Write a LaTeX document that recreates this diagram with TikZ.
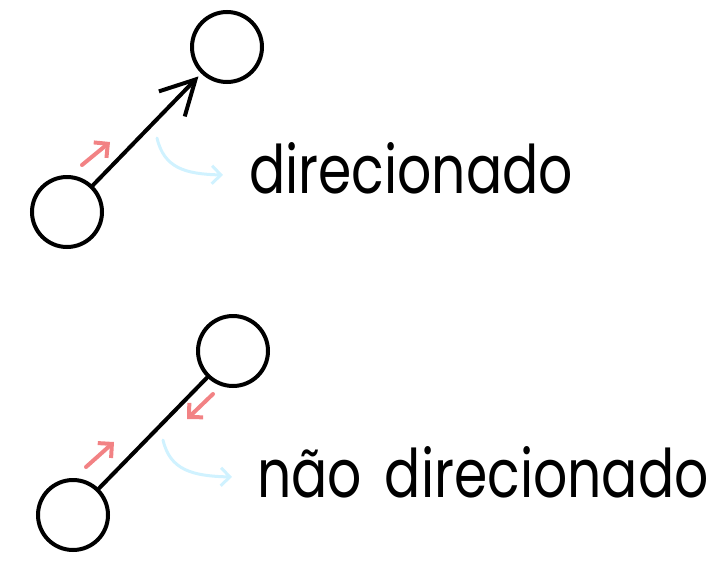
\documentclass[tikz,border=0pt]{standalone}
\usepackage{fontspec}
\setmainfont{Poppins}[FakeStretch=0.80,WordSpace=1.6]
\usetikzlibrary{arrows.meta}
\definecolor{hintred}{RGB}{242,130,132}
\definecolor{hintblue}{RGB}{208,242,255}
\tikzset{
  vertex/.style={circle,draw=black,line width=4pt,minimum size=70pt,inner sep=0pt},
  edge/.style={line width=4pt,black,line cap=round},
  bigtip/.style={-{Straight Barb[length=34pt,width=36pt,line width=4pt]}},
  redhint/.style={hintred,line width=4pt,line cap=round,-{Straight Barb[length=10pt,width=20pt,line width=4pt]}},
  bluehint/.style={hintblue,line width=3pt,line cap=round,-{Straight Barb[length=9pt,width=18pt,line width=3pt]}},
  label/.style={anchor=base west,inner sep=0pt,font=\fontsize{67}{75}\selectfont}
}
\begin{document}
\begin{tikzpicture}[x=1pt,y=-1pt]
\useasboundingbox (0,0) rectangle (717,565);
% top: directed
\node[vertex] (a1) at (67,212) {};
\node[vertex] (b1) at (227,47) {};
\draw[edge,bigtip,shorten >=4pt] (a1) -- (b1);
\coordinate (r1s) at (82,165); \coordinate (r1e) at (110,142);
\draw[redhint] (r1s) -- (r1e);
\coordinate (c1s) at (157,138); \coordinate (c1e) at (223,175);
\draw[bluehint] (c1s) .. controls (164,168) and (185,174) .. (c1e);
\node[label] (t1) at (249,193) {direcionado};
% bottom: undirected
\node[vertex] (a2) at (73,515) {};
\node[vertex] (b2) at (233,351) {};
\draw[edge] (a2) -- (b2);
\coordinate (r2s) at (86,467); \coordinate (r2e) at (114,442);
\draw[redhint] (r2s) -- (r2e);
\coordinate (r3s) at (213,394); \coordinate (r3e) at (187,419);
\draw[redhint] (r3s) -- (r3e);
\coordinate (c2s) at (163,440); \coordinate (c2e) at (232,477);
\draw[bluehint] (c2s) .. controls (170,470) and (192,476) .. (c2e);
\node[label] (t2) at (257,497) {não direcionado};
\end{tikzpicture}
\end{document}
